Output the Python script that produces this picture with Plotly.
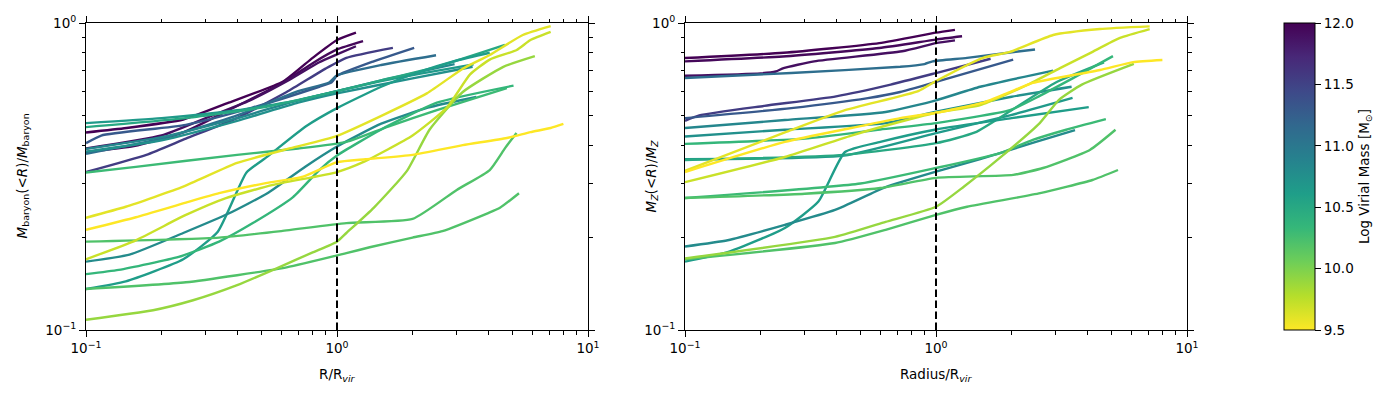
import plotly.graph_objects as go
from plotly.colors import sample_colorscale

# ---------------- data ----------------
# log virial mass of each halo
HALO_MASS = [12.0, 11.95, 11.9, 11.55, 11.3, 11.1, 10.85, 10.75, 10.65, 10.5,
             10.62, 10.8, 10.3, 10.35, 10.2, 10.2, 9.9, 9.7, 9.6, 9.5]

# left panel: cumulative baryon fraction vs R/Rvir
BARYON_R = [
    [0.1, 0.145, 0.244, 0.37, 0.61, 0.8, 1.0, 1.19],
    [0.1, 0.155, 0.244, 0.37, 0.61, 0.8, 1.0, 1.27],
    [0.1, 0.2, 0.3, 0.45, 0.65, 0.85, 1.0, 1.19],
    [0.1, 0.174, 0.25, 0.4, 0.63, 0.9, 1.09, 1.67],
    [0.1, 0.115, 0.25, 0.46, 0.85, 0.95, 1.0, 1.4, 2.03],
    [0.1, 0.2, 0.4, 0.7, 0.93, 1.0, 1.5, 2.48],
    [0.1, 0.2, 0.4, 0.7, 1.0, 1.5, 2.94],
    [0.1, 0.2, 0.4, 0.7, 1.0, 2.0, 3.47],
    [0.1, 0.2, 0.4, 0.7, 1.0, 1.7, 3.5],
    [0.1, 0.25, 0.5, 1.0, 1.5, 2.5, 4.67],
    [0.1, 0.144, 0.244, 0.335, 0.436, 0.528, 0.75, 1.0, 1.5, 2.1, 3.0, 4.06],
    [0.1, 0.149, 0.244, 0.372, 0.528, 0.75, 1.0, 1.5, 2.3, 3.59],
    [0.1, 0.158, 0.4, 0.7, 1.09, 1.6, 2.5, 4.75],
    [0.1, 0.135, 0.234, 0.339, 0.462, 0.668, 0.85, 1.0, 1.5, 2.5, 5.05],
    [0.1, 0.339, 0.6, 1.09, 2.0, 3.0, 4.06, 4.68, 5.19],
    [0.1, 0.25, 0.63, 1.09, 1.35, 2.0, 2.63, 3.98, 4.46, 5.31],
    [0.1, 0.185, 0.267, 0.4, 0.587, 0.8, 1.0, 1.09, 1.4, 1.9, 2.34, 3.17, 4.6, 6.14],
    [0.1, 0.158, 0.25, 0.361, 0.556, 1.0, 1.27, 2.0, 2.74, 3.39, 4.06, 5.2, 5.9, 7.1],
    [0.1, 0.144, 0.244, 0.4, 0.653, 1.0, 2.28, 3.17, 4.06, 5.5, 7.1],
    [0.1, 0.158, 0.25, 0.339, 0.52, 0.733, 1.0, 1.3, 2.0, 3.17, 4.75, 5.9, 7.1, 7.98],
]
BARYON_FRAC = [
    [0.44, 0.455, 0.485, 0.55, 0.645, 0.77, 0.88, 0.93],
    [0.38, 0.397, 0.44, 0.52, 0.64, 0.74, 0.82, 0.873],
    [0.39, 0.43, 0.49, 0.56, 0.655, 0.745, 0.79, 0.84],
    [0.327, 0.372, 0.42, 0.49, 0.596, 0.71, 0.77, 0.83],
    [0.406, 0.43, 0.466, 0.53, 0.62, 0.64, 0.673, 0.75, 0.83],
    [0.375, 0.42, 0.5, 0.6, 0.64, 0.675, 0.73, 0.785],
    [0.389, 0.425, 0.49, 0.56, 0.6, 0.65, 0.735],
    [0.381, 0.415, 0.48, 0.55, 0.59, 0.66, 0.72],
    [0.472, 0.49, 0.52, 0.56, 0.6, 0.66, 0.733],
    [0.458, 0.49, 0.53, 0.6, 0.65, 0.72, 0.848],
    [0.136, 0.144, 0.17, 0.209, 0.326, 0.367, 0.46, 0.528, 0.62, 0.69, 0.755, 0.8],
    [0.167, 0.176, 0.207, 0.24, 0.279, 0.341, 0.396, 0.47, 0.53, 0.574],
    [0.326, 0.34, 0.372, 0.39, 0.41, 0.46, 0.52, 0.614],
    [0.152, 0.157, 0.173, 0.194, 0.223, 0.271, 0.332, 0.37, 0.45, 0.55, 0.625],
    [0.194, 0.2, 0.21, 0.223, 0.23, 0.286, 0.332, 0.392, 0.438],
    [0.136, 0.143, 0.16, 0.178, 0.186, 0.2, 0.21, 0.24, 0.25, 0.279],
    [0.108, 0.116, 0.125, 0.14, 0.16, 0.179, 0.194, 0.207, 0.25, 0.33, 0.45, 0.596, 0.72, 0.78],
    [0.17, 0.196, 0.237, 0.269, 0.297, 0.327, 0.352, 0.43, 0.53, 0.68, 0.76, 0.817, 0.88, 0.935],
    [0.232, 0.252, 0.293, 0.35, 0.391, 0.429, 0.59, 0.71, 0.787, 0.914, 0.977],
    [0.212, 0.233, 0.26, 0.279, 0.301, 0.316, 0.352, 0.36, 0.372, 0.4, 0.422, 0.441, 0.455, 0.469],
]

# right panel: cumulative metal fraction vs Radius/Rvir
METAL_R = [
    [0.1, 0.247, 0.594, 1.0, 1.19],
    [0.1, 0.245, 0.594, 1.0, 1.27],
    [0.1, 0.2, 0.23, 0.247, 0.327, 0.733, 1.0, 1.19],
    [0.1, 0.114, 0.207, 0.4, 0.66, 1.0, 1.65],
    [0.1, 0.265, 0.535, 0.72, 1.0, 2.03],
    [0.1, 0.265, 0.72, 0.9, 0.97, 1.33, 2.48],
    [0.1, 0.25, 0.63, 1.0, 1.5, 2.93],
    [0.1, 0.25, 0.63, 1.0, 2.0, 3.47],
    [0.1, 0.43, 1.0, 1.97, 3.5],
    [0.1, 0.43, 1.0, 1.43, 2.0, 3.0, 4.67],
    [0.1, 0.15, 0.25, 0.34, 0.434, 0.6, 1.0, 2.0, 4.06],
    [0.1, 0.148, 0.25, 0.396, 0.63, 1.0, 1.5, 2.5, 3.58],
    [0.1, 0.5, 1.0, 1.8, 2.43, 3.3, 4.75],
    [0.1, 0.3, 0.6, 1.0, 1.97, 2.6, 3.5, 5.07],
    [0.1, 0.3, 0.6, 1.0, 2.03, 2.67, 4.1, 5.19],
    [0.1, 0.396, 0.63, 1.0, 1.33, 2.6, 4.2, 5.31],
    [0.1, 0.396, 0.63, 1.0, 1.29, 1.82, 2.59, 3.09, 3.81, 6.14],
    [0.1, 0.25, 0.46, 0.85, 1.0, 1.5, 2.31, 3.12, 4.11, 5.41, 7.1],
    [0.1, 0.25, 0.434, 0.85, 1.0, 1.54, 1.97, 2.93, 4.5, 7.1],
    [0.1, 0.25, 0.46, 0.72, 1.0, 1.54, 1.97, 2.43, 4.5, 6.1, 7.98],
]
METAL_FRAC = [
    [0.769, 0.80, 0.86, 0.93, 0.95],
    [0.75, 0.778, 0.829, 0.883, 0.905],
    [0.673, 0.685, 0.695, 0.713, 0.75, 0.809, 0.86, 0.878],
    [0.48, 0.50, 0.537, 0.577, 0.63, 0.687, 0.765],
    [0.49, 0.528, 0.569, 0.596, 0.643, 0.76],
    [0.662, 0.687, 0.72, 0.735, 0.75, 0.77, 0.82],
    [0.455, 0.483, 0.513, 0.56, 0.62, 0.70],
    [0.427, 0.449, 0.472, 0.514, 0.575, 0.62],
    [0.36, 0.37, 0.438, 0.50, 0.57],
    [0.358, 0.372, 0.406, 0.44, 0.52, 0.64, 0.744],
    [0.167, 0.18, 0.215, 0.262, 0.38, 0.41, 0.45, 0.49, 0.532],
    [0.187, 0.196, 0.22, 0.246, 0.292, 0.328, 0.36, 0.41, 0.448],
    [0.269, 0.30, 0.337, 0.377, 0.416, 0.449, 0.486],
    [0.404, 0.42, 0.45, 0.472, 0.52, 0.58, 0.66, 0.78],
    [0.269, 0.278, 0.29, 0.313, 0.32, 0.337, 0.386, 0.449],
    [0.17, 0.192, 0.212, 0.237, 0.252, 0.279, 0.308, 0.332],
    [0.171, 0.201, 0.225, 0.252, 0.293, 0.367, 0.472, 0.562, 0.63, 0.736],
    [0.303, 0.366, 0.43, 0.494, 0.51, 0.54, 0.628, 0.713, 0.798, 0.894, 0.955],
    [0.33, 0.44, 0.52, 0.60, 0.647, 0.77, 0.805, 0.914, 0.956, 0.975],
    [0.327, 0.41, 0.455, 0.49, 0.51, 0.55, 0.596, 0.638, 0.703, 0.746, 0.758],
]

MASS_MIN, MASS_MAX = 9.5, 12.0
CBAR_TICKS = [9.5, 10.0, 10.5, 11.0, 11.5, 12.0]
VIRIAL_RADIUS = 1.0
X_TICKS = [0.1, 1, 10]
X_TICKTEXT = ["10<sup>−1</sup>", "10<sup>0</sup>", "10<sup>1</sup>"]
Y_TICKS = [0.1, 1]
Y_TICKTEXT = ["10<sup>−1</sup>", "10<sup>0</sup>"]

# ---------------- figure ----------------
FONT = "DejaVu Sans"
FS = 13.5
OFF = 8                       # page body margin of the html page
W, H = 1400 - OFF, 400 - OFF
ML, MT = 86 - OFF, 23 - OFF
PW, PH = 1187 - 86, 330 - 23  # plot area size
MR = W - ML - PW
MB = H - MT - PH


def mass_color(m):
    t = (MASS_MAX - m) / (MASS_MAX - MASS_MIN)
    return sample_colorscale("Viridis", [min(max(t, 0), 1)])[0]


fig = go.Figure()

for RS, FR, xa, ya in [(BARYON_R, BARYON_FRAC, "x", "y"), (METAL_R, METAL_FRAC, "x2", "y2")]:
    for m, xs, ys in zip(HALO_MASS, RS, FR):
        fig.add_trace(go.Scatter(
            x=xs, y=ys, mode="lines", xaxis=xa, yaxis=ya,
            line=dict(color=mass_color(m), width=2.4, shape="spline", smoothing=0.5),
            showlegend=False, hoverinfo="skip"))
    fig.add_trace(go.Scatter(
        x=[VIRIAL_RADIUS, VIRIAL_RADIUS], y=[Y_TICKS[0], Y_TICKS[-1]],
        mode="lines", xaxis=xa, yaxis=ya,
        line=dict(color="black", width=2, dash="7.5px,3.5px"),
        showlegend=False, hoverinfo="skip"))

# colorbar carrier
fig.add_trace(go.Scatter(
    x=[None], y=[None], mode="markers", xaxis="x", yaxis="y", showlegend=False,
    marker=dict(color=[MASS_MIN], cmin=MASS_MIN, cmax=MASS_MAX,
                colorscale="Viridis", reversescale=True, showscale=True,
                colorbar=dict(
                    x=(1284 - 86) / PW, xanchor="left", xref="paper",
                    y=0.5, yanchor="middle", len=1.0, lenmode="fraction",
                    xpad=0, ypad=0,
                    thickness=31, thicknessmode="pixels",
                    outlinewidth=1, outlinecolor="black",
                    ticks="outside", ticklen=6, tickwidth=1, tickcolor="black",
                    tickvals=CBAR_TICKS,
                    ticktext=[f"{v:.1f}" for v in CBAR_TICKS],
                    tickfont=dict(family=FONT, size=FS, color="black"),
                    title=dict(text="Log Virial Mass [M<sub>⊙</sub>]", side="right",
                               font=dict(family=FONT, size=FS, color="black")),
                ))))

axis_common = dict(
    type="log", showgrid=False, zeroline=False, showline=True, linecolor="black",
    linewidth=1, mirror="ticks", ticks="outside", ticklen=6, tickwidth=1,
    tickcolor="black", tickfont=dict(family=FONT, size=FS, color="black"),
    automargin=False,
    minor=dict(ticks="outside", ticklen=3.5, tickwidth=0.8, tickcolor="black",
               dtick="D1", showgrid=False),
)

d1 = [0, 502 / PW]
d2 = [599 / PW, 1]
fig.update_layout(
    width=W, height=H, paper_bgcolor="white", plot_bgcolor="white",
    margin=dict(l=ML, r=MR, t=MT, b=MB, autoexpand=False), showlegend=False,
    font=dict(family=FONT, size=FS, color="black"),
    xaxis=dict(domain=d1, range=[-1, 1], tickvals=X_TICKS, ticktext=X_TICKTEXT,
               anchor="y", **axis_common),
    yaxis=dict(domain=[0, 1], range=[-1, 0], tickvals=Y_TICKS, ticktext=Y_TICKTEXT,
               anchor="x", **axis_common),
    xaxis2=dict(domain=d2, range=[-1, 1], tickvals=X_TICKS, ticktext=X_TICKTEXT,
                anchor="y2", **axis_common),
    yaxis2=dict(domain=[0, 1], range=[-1, 0], tickvals=Y_TICKS, ticktext=Y_TICKTEXT,
                anchor="x2", **axis_common),
)

ann_font = dict(family=FONT, size=FS, color="black")
xt_y = -(375 - 330) / PH
fig.add_annotation(text="R/R<sub><i>vir</i></sub>", xref="paper", yref="paper",
                   x=(d1[0] + d1[1]) / 2, y=xt_y, showarrow=False,
                   xanchor="center", yanchor="middle", font=ann_font)
fig.add_annotation(text="Radius/R<sub><i>vir</i></sub>", xref="paper", yref="paper",
                   x=(d2[0] + d2[1]) / 2, y=xt_y, showarrow=False,
                   xanchor="center", yanchor="middle", font=ann_font)
fig.add_annotation(text="<i>M</i><sub>baryon</sub>(&lt;<i>R</i>)/<i>M</i><sub>baryon</sub>",
                   xref="paper", yref="paper", x=(22 - 86) / PW, y=0.5, textangle=-90,
                   showarrow=False, xanchor="center", yanchor="middle", font=ann_font)
fig.add_annotation(text="<i>M</i><sub><i>Z</i></sub>(&lt;<i>R</i>)/<i>M</i><sub><i>Z</i></sub>",
                   xref="paper", yref="paper", x=(651 - 86) / PW, y=0.5, textangle=-90,
                   showarrow=False, xanchor="center", yanchor="middle", font=ann_font)

fig.write_html("out.html")
